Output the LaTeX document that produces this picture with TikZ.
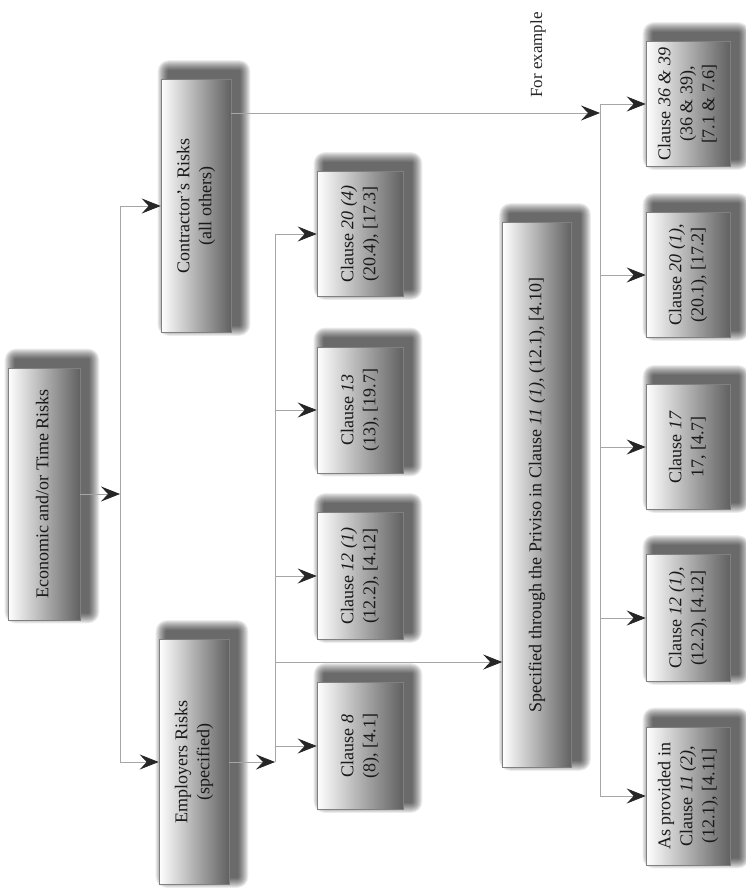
\documentclass[tikz,border=0pt]{standalone}
\usepackage{fontspec}
\usepackage{graphicx}
\setmainfont{Liberation Serif}
\usetikzlibrary{arrows.meta,backgrounds}
\newcommand{\rtxt}[1]{\rotatebox{90}{\begin{tabular}{@{}c@{}}#1\end{tabular}}}
\begin{document}
\begin{tikzpicture}[x=1pt,y=-1pt,
  box/.style={draw=black!50, line width=0.6pt, inner sep=0pt,
    left color=white, middle color=black!14, right color=black!62,
    text=black!90, font=\fontsize{18}{22}\selectfont},
  wire/.style={draw=gray!70, line width=0.8pt},
  arr/.style={wire, -{Stealth[length=19pt,width=15pt,inset=7pt,color=black!85,fill=black!85]}},
  shade/.style={fill=black, opacity=0.075},
  lab/.style={text=black!85, font=\fontsize{17}{20}\selectfont}]
\useasboundingbox (0,0) rectangle (746,889);
% first level
\node[box, minimum width=72, minimum height=252] (eco) at (44,494) {\rtxt{Economic and/or Time Risks}};
\node[box, minimum width=70, minimum height=253] (con) at (196,206) {\rtxt{Contractor's Risks\\(all others)}};
\node[box, minimum width=70, minimum height=245] (emp) at (194,762) {\rtxt{Employers Risks\\(specified)}};
% clause column
\node[box, minimum width=86, minimum height=125] (c204) at (360,234) {\rtxt{Clause \textit{20 (4)}\\(20.4), [17.3]}};
\node[box, minimum width=86, minimum height=126] (c13) at (360,410) {\rtxt{Clause \textit{13}\\(13), [19.7]}};
\node[box, minimum width=86, minimum height=127] (c121) at (360,576) {\rtxt{Clause \textit{12 (1)}\\(12.2), [4.12]}};
\node[box, minimum width=86, minimum height=127] (c8) at (360,746) {\rtxt{Clause \textit{8}\\(8), [4.1]}};
% specified
\node[box, minimum width=69, minimum height=545] (spec) at (537,495) {\rtxt{Specified through the Priviso in Clause \textit{11 (1)}, (12.1), [4.10]}};
% bottom column
\node[box, minimum width=84, minimum height=125] (b1) at (688,104) {\rtxt{Clause \textit{36 \& 39}\\(36 \& 39),\\{}[7.1 \& 7.6]}};
\node[box, minimum width=84, minimum height=125] (b2) at (688,275) {\rtxt{Clause \textit{20 (1)},\\(20.1), [17.2]}};
\node[box, minimum width=84, minimum height=125] (b3) at (688,447) {\rtxt{Clause \textit{17}\\17, [4.7]}};
\node[box, minimum width=84, minimum height=127] (b4) at (688,618) {\rtxt{Clause \textit{12 (1)},\\(12.2), [4.12]}};
\node[box, minimum width=84, minimum height=138] (b5) at (688,796) {\rtxt{As provided in\\Clause \textit{11 (2)},\\(12.1), [4.11]}};
\node[lab] (fe) at (538,55) {\rotatebox{90}{For example}};
% soft shadows
\begin{scope}[on background layer]
\fill[white] (0,0) rectangle (746,889);
\foreach \n in {eco,con,emp,c204,c13,c121,c8,spec,b1,b2,b3,b4,b5}{
  \foreach \r [evaluate=\r as \a using 8-\r, evaluate=\r as \b using 8+\r] in {1,...,11}{
    \fill[shade, rounded corners=\r pt]
      ([xshift=\a pt, yshift=\a pt]\n.south west) rectangle ([xshift=\b pt, yshift=\b pt]\n.north east);
  }
}
\end{scope}
% junction coordinates
\coordinate (v1t) at (120,206);
\coordinate (v1b) at (120,762);
\coordinate (v2t) at (275,234);
\coordinate (v2b) at (275,762);
\coordinate (v3t) at (600,104);
\coordinate (v3b) at (600,796);
\coordinate (cs) at (con.east |- 0,113);
% connectors
\draw[wire] (v1t) -- (v1b);
\draw[arr] (eco.east) -- (eco.east -| v1t);
\draw[arr] (v1t |- con.west) -- (con.west);
\draw[arr] (v1b |- emp.west) -- (emp.west);
\draw[wire] (v2t) -- (v2b);
\draw[arr] (emp.east) -- (emp.east -| v2t);
\draw[arr] (v2t |- c204.west) -- (c204.west);
\draw[arr] (v2t |- c13.west) -- (c13.west);
\draw[arr] (v2t |- c121.west) -- (c121.west);
\draw[arr] (v2t |- c8.west) -- (c8.west);
\draw[arr] (v2t |- 0,662) -- (spec.west |- 0,662);
\draw[arr] (cs) -- (cs -| v3t);
\draw[wire] (v3t) -- (v3b);
\draw[arr] (v3t |- b1.west) -- (b1.west);
\draw[arr] (v3t |- b2.west) -- (b2.west);
\draw[arr] (v3t |- b3.west) -- (b3.west);
\draw[arr] (v3t |- b4.west) -- (b4.west);
\draw[arr] (v3t |- b5.west) -- (b5.west);
\end{tikzpicture}
\end{document}
